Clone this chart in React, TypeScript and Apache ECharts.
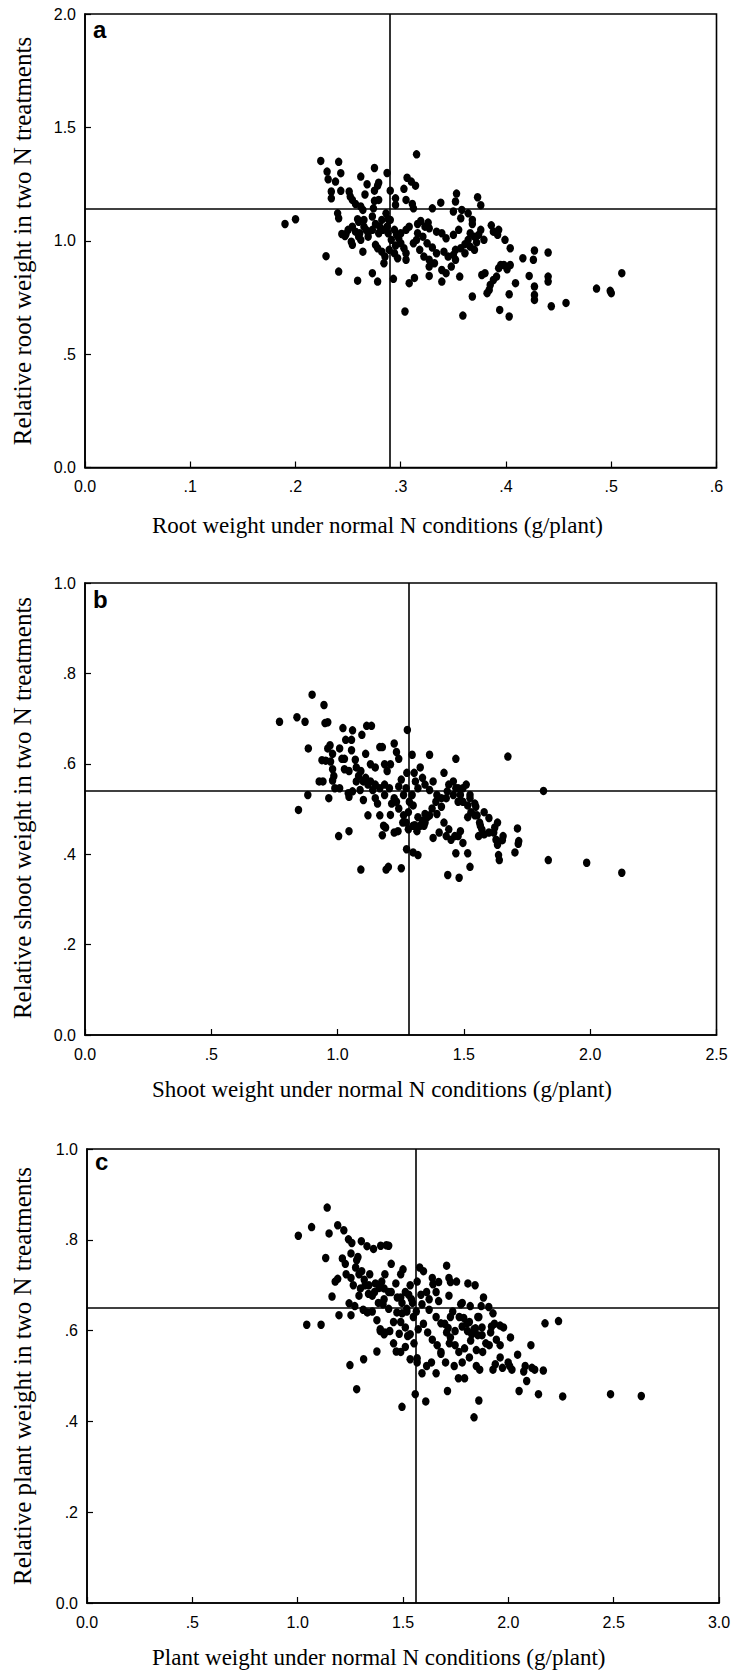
import React, { useEffect, useRef } from "react";
import * as echarts from "echarts";

// Panel a: root weight (g/plant) vs relative root weight
const rootPoints: [number, number][] = [
  [0.224, 1.352], [0.241, 1.348], [0.315, 1.381], [0.23, 1.305], [0.243, 1.298], [0.275, 1.321], [0.287, 1.299],
  [0.231, 1.271], [0.238, 1.261], [0.262, 1.283], [0.306, 1.278], [0.31, 1.261], [0.314, 1.243], [0.268, 1.249],
  [0.279, 1.256], [0.278, 1.243], [0.303, 1.229], [0.275, 1.221], [0.29, 1.221], [0.251, 1.217], [0.234, 1.217],
  [0.234, 1.187], [0.243, 1.22], [0.252, 1.195], [0.266, 1.204], [0.305, 1.18], [0.353, 1.208], [0.373, 1.192],
  [0.376, 1.157], [0.338, 1.168], [0.352, 1.173], [0.254, 1.18], [0.257, 1.162], [0.262, 1.151], [0.264, 1.136],
  [0.275, 1.176], [0.279, 1.18], [0.295, 1.187], [0.295, 1.158], [0.311, 1.162], [0.312, 1.143], [0.274, 1.143],
  [0.33, 1.143], [0.35, 1.129], [0.358, 1.136], [0.364, 1.121], [0.24, 1.121], [0.241, 1.099], [0.259, 1.095],
  [0.26, 1.084], [0.29, 1.092], [0.319, 1.087], [0.326, 1.08], [0.357, 1.099], [0.368, 1.092], [0.368, 1.074],
  [0.386, 1.068], [0.376, 1.048], [0.393, 1.048], [0.392, 1.026], [0.399, 1.004], [0.404, 0.967], [0.427, 0.957],
  [0.44, 0.948], [0.416, 0.923], [0.426, 0.916], [0.379, 1.004], [0.37, 1.018], [0.372, 0.993], [0.361, 0.985],
  [0.355, 1.048], [0.35, 1.026], [0.343, 1.011], [0.339, 1.033], [0.334, 1.04], [0.327, 1.055], [0.323, 1.062],
  [0.316, 1.074], [0.308, 1.062], [0.305, 1.048], [0.3, 1.033], [0.298, 1.011], [0.3, 0.989], [0.303, 0.967],
  [0.305, 0.945], [0.305, 0.916], [0.312, 0.989], [0.315, 1.004], [0.321, 1.018], [0.325, 0.989], [0.33, 0.97],
  [0.334, 0.945], [0.341, 0.952], [0.345, 0.93], [0.35, 0.938], [0.352, 0.96], [0.357, 0.967], [0.361, 0.945],
  [0.366, 0.974], [0.37, 0.96], [0.332, 0.901], [0.327, 0.886], [0.339, 0.871], [0.343, 0.857], [0.327, 0.845],
  [0.339, 0.82], [0.348, 0.886], [0.352, 0.916], [0.356, 0.842], [0.377, 0.849], [0.38, 0.857], [0.391, 0.842],
  [0.388, 0.827], [0.385, 0.805], [0.384, 0.783], [0.382, 0.769], [0.393, 0.879], [0.395, 0.893], [0.398, 0.893],
  [0.404, 0.893], [0.401, 0.874], [0.422, 0.845], [0.427, 0.798], [0.427, 0.761], [0.427, 0.739], [0.44, 0.842],
  [0.44, 0.82], [0.409, 0.813], [0.403, 0.764], [0.443, 0.711], [0.457, 0.726], [0.486, 0.789], [0.499, 0.779],
  [0.5, 0.769], [0.51, 0.857], [0.394, 0.695], [0.403, 0.666], [0.359, 0.67], [0.368, 0.754], [0.304, 0.688],
  [0.308, 0.813], [0.313, 0.836], [0.293, 0.832], [0.278, 0.82], [0.273, 0.857], [0.259, 0.824], [0.241, 0.864],
  [0.229, 0.932], [0.244, 1.03], [0.247, 1.021], [0.253, 0.996], [0.254, 0.982], [0.264, 0.952], [0.262, 1.004],
  [0.261, 1.033], [0.265, 1.062], [0.267, 1.048], [0.269, 1.036], [0.273, 1.048], [0.279, 1.033], [0.283, 1.048],
  [0.287, 1.062], [0.288, 1.033], [0.291, 1.004], [0.276, 0.982], [0.278, 0.967], [0.282, 0.952], [0.285, 0.93],
  [0.284, 0.901], [0.289, 0.96], [0.294, 0.945], [0.297, 0.923], [0.295, 0.979], [0.19, 1.074], [0.2, 1.095],
  [0.286, 1.121], [0.282, 1.092], [0.288, 1.095], [0.273, 1.107], [0.265, 1.092], [0.276, 1.074], [0.28, 1.062],
  [0.294, 1.048], [0.296, 1.026], [0.257, 1.04], [0.254, 1.062], [0.25, 1.048], [0.248, 1.03], [0.26, 1.018],
  [0.269, 1.018], [0.316, 1.033], [0.318, 0.96], [0.322, 0.93], [0.327, 0.916], [0.364, 1.004], [0.366, 1.033],
  [0.374, 1.026], [0.388, 1.04],
];

// Panel b: shoot weight (g/plant) vs relative shoot weight
const shootPoints: [number, number][] = [
  [0.77, 0.693], [0.839, 0.703], [0.871, 0.693], [0.899, 0.753], [0.946, 0.73], [0.95, 0.69], [0.961, 0.692],
  [0.884, 0.634], [0.845, 0.498], [0.882, 0.531], [0.965, 0.524], [1.004, 0.44], [1.045, 0.451], [0.938, 0.608],
  [0.953, 0.607], [0.972, 0.605], [0.98, 0.588], [0.985, 0.573], [0.961, 0.634], [0.97, 0.641], [0.98, 0.622],
  [0.927, 0.561], [0.942, 0.561], [0.98, 0.563], [1.008, 0.546], [1.021, 0.679], [1.059, 0.674], [1.032, 0.653],
  [1.055, 0.653], [1.096, 0.664], [1.115, 0.684], [1.134, 0.684], [1.055, 0.63], [1.07, 0.609], [1.045, 0.584],
  [1.017, 0.611], [1.008, 0.634], [1.027, 0.588], [0.989, 0.546], [1.042, 0.535], [1.045, 0.527], [1.074, 0.561],
  [1.083, 0.573], [1.089, 0.542], [1.111, 0.622], [1.13, 0.599], [1.149, 0.592], [1.167, 0.637], [1.177, 0.637],
  [1.186, 0.599], [1.196, 0.584], [1.209, 0.599], [1.224, 0.645], [1.242, 0.611], [1.233, 0.626], [1.276, 0.675],
  [1.295, 0.62], [1.303, 0.58], [1.308, 0.561], [1.318, 0.546], [1.295, 0.531], [1.284, 0.516], [1.28, 0.493],
  [1.299, 0.508], [1.318, 0.482], [1.306, 0.464], [1.314, 0.451], [1.364, 0.62], [1.378, 0.561], [1.389, 0.516],
  [1.411, 0.524], [1.434, 0.539], [1.458, 0.561], [1.468, 0.611], [1.477, 0.516], [1.496, 0.546], [1.509, 0.554],
  [1.524, 0.531], [1.547, 0.505], [1.543, 0.486], [1.515, 0.482], [1.486, 0.451], [1.464, 0.44], [1.44, 0.455],
  [1.421, 0.47], [1.402, 0.448], [1.378, 0.436], [1.355, 0.482], [1.346, 0.489], [1.336, 0.474], [1.342, 0.463],
  [1.364, 0.486], [1.43, 0.44], [1.449, 0.432], [1.477, 0.44], [1.496, 0.425], [1.515, 0.402], [1.562, 0.47],
  [1.571, 0.455], [1.558, 0.44], [1.58, 0.493], [1.599, 0.48], [1.618, 0.448], [1.627, 0.432], [1.637, 0.398],
  [1.64, 0.387], [1.633, 0.421], [1.674, 0.616], [1.712, 0.457], [1.717, 0.429], [1.702, 0.404], [1.815, 0.54],
  [1.834, 0.387], [1.986, 0.381], [2.125, 0.359], [1.633, 0.47], [1.543, 0.512], [1.524, 0.524], [1.477, 0.546],
  [1.458, 0.531], [1.43, 0.524], [1.411, 0.505], [1.393, 0.489], [1.374, 0.501], [1.346, 0.47], [1.327, 0.463],
  [1.299, 0.463], [1.28, 0.455], [1.271, 0.47], [1.261, 0.486], [1.242, 0.501], [1.233, 0.516], [1.224, 0.524],
  [1.205, 0.546], [1.186, 0.554], [1.167, 0.546], [1.149, 0.554], [1.13, 0.561], [1.111, 0.569], [1.092, 0.584],
  [1.074, 0.592], [1.059, 0.539], [1.102, 0.52], [1.12, 0.486], [1.167, 0.486], [1.182, 0.463], [1.177, 0.442],
  [1.19, 0.459], [1.209, 0.487], [1.224, 0.448], [1.239, 0.451], [1.258, 0.47], [1.273, 0.411], [1.299, 0.404],
  [1.318, 0.398], [1.092, 0.366], [1.192, 0.366], [1.201, 0.372], [1.252, 0.369], [1.436, 0.354], [1.481, 0.348],
  [1.524, 0.372], [1.468, 0.402], [1.027, 0.611], [1.102, 0.561], [1.12, 0.554], [1.139, 0.542], [1.149, 0.524],
  [1.158, 0.512], [1.186, 0.531], [1.214, 0.512], [1.242, 0.55], [1.261, 0.531], [1.271, 0.546], [1.252, 0.565],
  [1.274, 0.58], [1.327, 0.592], [1.336, 0.569], [1.346, 0.554], [1.364, 0.542], [1.393, 0.531], [1.421, 0.58],
  [1.44, 0.554], [1.468, 0.546], [1.486, 0.531], [1.496, 0.516], [1.515, 0.508], [1.528, 0.493], [1.552, 0.486],
  [1.565, 0.463], [1.58, 0.444], [1.599, 0.448], [1.622, 0.459], [1.652, 0.431], [1.655, 0.44], [1.715, 0.423],
];

// Panel c: plant weight (g/plant) vs relative plant weight
const plantPoints: [number, number][] = [
  [1.003, 0.809], [1.066, 0.828], [1.14, 0.871], [1.149, 0.814], [1.19, 0.832], [1.219, 0.821], [1.133, 0.76],
  [1.043, 0.613], [1.111, 0.613], [1.163, 0.675], [1.178, 0.708], [1.196, 0.634], [1.19, 0.714], [1.212, 0.759],
  [1.226, 0.747], [1.23, 0.724], [1.241, 0.801], [1.253, 0.77], [1.257, 0.793], [1.28, 0.755], [1.286, 0.762],
  [1.302, 0.797], [1.329, 0.786], [1.36, 0.78], [1.394, 0.787], [1.421, 0.788], [1.432, 0.787], [1.253, 0.716],
  [1.264, 0.7], [1.275, 0.739], [1.291, 0.724], [1.304, 0.731], [1.32, 0.7], [1.338, 0.7], [1.354, 0.677],
  [1.365, 0.685], [1.383, 0.661], [1.399, 0.708], [1.414, 0.724], [1.432, 0.685], [1.41, 0.669], [1.444, 0.747],
  [1.466, 0.704], [1.489, 0.724], [1.5, 0.735], [1.511, 0.685], [1.534, 0.7], [1.545, 0.661], [1.567, 0.708],
  [1.579, 0.739], [1.597, 0.731], [1.612, 0.685], [1.624, 0.669], [1.639, 0.716], [1.657, 0.685], [1.707, 0.743],
  [1.718, 0.716], [1.736, 0.642], [1.754, 0.708], [1.781, 0.661], [1.803, 0.616], [1.819, 0.654], [1.842, 0.7],
  [1.86, 0.63], [1.882, 0.673], [1.871, 0.654], [1.927, 0.638], [1.934, 0.615], [1.961, 0.611], [1.977, 0.607],
  [2.01, 0.585], [2.051, 0.467], [2.107, 0.568], [2.125, 0.514], [2.174, 0.616], [2.238, 0.621], [2.166, 0.512],
  [2.143, 0.46], [2.087, 0.489], [2.258, 0.455], [2.485, 0.46], [2.631, 0.456], [1.837, 0.409], [1.86, 0.446],
  [1.495, 0.432], [1.558, 0.46], [1.608, 0.444], [1.711, 0.467], [1.792, 0.495], [1.938, 0.526], [1.927, 0.514],
  [1.909, 0.568], [1.878, 0.553], [1.848, 0.557], [1.821, 0.578], [1.792, 0.561], [1.765, 0.553], [1.747, 0.568],
  [1.725, 0.585], [1.702, 0.53], [1.68, 0.549], [1.662, 0.568], [1.639, 0.58], [1.617, 0.596], [1.597, 0.615],
  [1.572, 0.603], [1.549, 0.63], [1.522, 0.588], [1.511, 0.607], [1.489, 0.619], [1.471, 0.64], [1.455, 0.619],
  [1.437, 0.599], [1.414, 0.596], [1.392, 0.599], [1.376, 0.623], [1.354, 0.642], [1.331, 0.64], [1.311, 0.646],
  [1.291, 0.677], [1.271, 0.654], [1.253, 0.634], [1.244, 0.66], [1.313, 0.537], [1.376, 0.554], [1.248, 0.524],
  [1.28, 0.471], [1.455, 0.572], [1.468, 0.554], [1.511, 0.564], [1.534, 0.537], [1.567, 0.53], [1.59, 0.506],
  [1.612, 0.522], [1.635, 0.53], [1.657, 0.506], [1.68, 0.553], [1.72, 0.572], [1.743, 0.522], [1.763, 0.495],
  [1.781, 0.53], [1.815, 0.541], [1.848, 0.522], [1.864, 0.514], [1.893, 0.572], [1.916, 0.596], [1.943, 0.58],
  [1.961, 0.568], [1.972, 0.518], [1.999, 0.53], [2.017, 0.514], [2.044, 0.547], [2.073, 0.51], [2.08, 0.522],
  [2.112, 0.518], [2.006, 0.522], [1.961, 0.541], [1.92, 0.609], [1.875, 0.607], [1.837, 0.603], [1.815, 0.619],
  [1.767, 0.63], [1.747, 0.599], [1.714, 0.606], [1.698, 0.615], [1.68, 0.616], [1.657, 0.63], [1.624, 0.646],
  [1.59, 0.658], [1.563, 0.642], [1.54, 0.669], [1.518, 0.642], [1.495, 0.661], [1.473, 0.673], [1.444, 0.685],
  [1.41, 0.693], [1.387, 0.694], [1.369, 0.704], [1.342, 0.724], [1.316, 0.712], [1.298, 0.693], [1.336, 0.681],
  [1.405, 0.658], [1.432, 0.648], [1.489, 0.673], [1.527, 0.679], [1.585, 0.679], [1.669, 0.665], [1.725, 0.63],
  [1.806, 0.599], [1.826, 0.592], [1.855, 0.59], [1.875, 0.59], [1.808, 0.704], [1.725, 0.707], [1.669, 0.707],
  [1.642, 0.702], [1.718, 0.677], [1.774, 0.658], [1.788, 0.628], [1.567, 0.539], [1.518, 0.648], [1.495, 0.638],
  [1.482, 0.593], [1.489, 0.553], [1.41, 0.592], [1.392, 0.603], [1.534, 0.592], [1.552, 0.572], [1.707, 0.596],
  [1.781, 0.609], [1.907, 0.652], [1.844, 0.605], [1.855, 0.63],
];

// Mean reference lines
const rootMean = { x: 0.286, y: 1.135 };
const shootMean = { x: 1.276, y: 0.541 };
const plantMean = { x: 1.561, y: 0.652 };

// Tick labels
const xTicksA = ["0.0", ".1", ".2", ".3", ".4", ".5", ".6"];
const yTicksA = ["0.0", ".5", "1.0", "1.5", "2.0"];
const xTicksB = ["0.0", ".5", "1.0", "1.5", "2.0", "2.5"];
const yTicksBC = ["0.0", ".2", ".4", ".6", ".8", "1.0"];
const xTicksC = ["0.0", ".5", "1.0", "1.5", "2.0", "2.5", "3.0"];

const panelLetters = ["a", "b", "c"];
const xTitles = [
  "Root weight under normal N conditions (g/plant)",
  "Shoot weight under normal N conditions (g/plant)",
  "Plant weight under normal N conditions (g/plant)",
];
const yTitles = [
  "Relative root weight in two N treatments",
  "Relative shoot weight in two N treatments",
  "Relative plant weight in two N treatments",
];

export default function App() {
  const ref = useRef<HTMLDivElement>(null);

  useEffect(() => {
    document.body.style.margin = "0";
    if (!ref.current) return;
    const chart = echarts.init(ref.current, undefined, { renderer: "svg" });

    const panels = [
      { grid: { left: 85, top: 14, width: 631.5, height: 453.5 }, xInt: 0.1, xLabels: xTicksA, yInt: 0.5, yLabels: yTicksA, pts: rootPoints, mean: rootMean },
      { grid: { left: 85, top: 583, width: 631.5, height: 452 }, xInt: 0.5, xLabels: xTicksB, yInt: 0.2, yLabels: yTicksBC, pts: shootPoints, mean: shootMean },
      { grid: { left: 87, top: 1149, width: 632, height: 454 }, xInt: 0.5, xLabels: xTicksC, yInt: 0.2, yLabels: yTicksBC, pts: plantPoints, mean: plantMean },
    ];

    const axisCommon = {
      axisLine: { show: true, lineStyle: { color: "#000", width: 1.6 } },
      axisTick: { show: true, inside: true, length: 6, lineStyle: { color: "#000", width: 1.2 } },
      splitLine: { show: false },
    };

    const grids = panels.map((p) => ({
      ...p.grid,
      show: true,
      borderColor: "#000",
      borderWidth: 1.6,
      backgroundColor: "transparent",
      containLabel: false,
    }));

    const xAxes = panels.map((p, i) => ({
      type: "value",
      gridIndex: i,
      min: 0,
      max: p.xInt * (p.xLabels.length - 1),
      interval: p.xInt,
      ...axisCommon,
      axisLabel: {
        margin: 11,
        color: "#000",
        fontFamily: "Liberation Sans, Arial, sans-serif",
        fontSize: 16,
        showMinLabel: true,
        showMaxLabel: true,
        formatter: (v: number) => p.xLabels[Math.round(v / p.xInt)] ?? "",
      },
    }));

    const yAxes = panels.map((p, i) => ({
      type: "value",
      gridIndex: i,
      min: 0,
      max: p.yInt * (p.yLabels.length - 1),
      interval: p.yInt,
      ...axisCommon,
      axisLabel: {
        margin: 9,
        color: "#000",
        fontFamily: "Liberation Sans, Arial, sans-serif",
        fontSize: 16,
        showMinLabel: true,
        showMaxLabel: true,
        formatter: (v: number) => p.yLabels[Math.round(v / p.yInt)] ?? "",
      },
    }));

    const series = panels.map((p, i) => ({
      type: "scatter",
      xAxisIndex: i,
      yAxisIndex: i,
      data: p.pts,
      symbol: "circle",
      symbolSize: [7.5, 8.5],
      itemStyle: { color: "#000", opacity: 1 },
      silent: true,
      markLine: {
        silent: true,
        symbol: "none",
        label: { show: false },
        lineStyle: { color: "#000", width: 1.6, type: "solid", opacity: 1 },
        data: [{ xAxis: p.mean.x }, { yAxis: p.mean.y }],
      },
    }));

    const letterY = [29.7, 599.7, 1161.7];
    const xTitleY = [525.5, 1089, 1657.5];
    const yTitleY = [241, 808, 1376];

    const graphic: any[] = [];
    panels.forEach((p, i) => {
      graphic.push({
        type: "text",
        x: p.grid.left + 8,
        y: letterY[i],
        style: {
          text: panelLetters[i],
          fontFamily: "Liberation Sans, Arial, sans-serif",
          fontWeight: "bold",
          fontSize: 24,
          fill: "#000",
          textAlign: "left",
          textVerticalAlign: "middle",
        },
      });
      graphic.push({
        type: "text",
        x: 152,
        y: xTitleY[i],
        style: {
          text: xTitles[i],
          fontFamily: "Liberation Serif, Times New Roman, serif",
          fontSize: 23,
          fill: "#000",
          textAlign: "left",
          textVerticalAlign: "middle",
        },
      });
      graphic.push({
        type: "text",
        x: 22,
        y: yTitleY[i],
        rotation: Math.PI / 2,
        style: {
          text: yTitles[i],
          fontFamily: "Liberation Serif, Times New Roman, serif",
          fontSize: 25,
          fill: "#000",
          textAlign: "center",
          textVerticalAlign: "middle",
        },
      });
    });

    chart.setOption({
      animation: false,
      backgroundColor: "#fff",
      grid: grids,
      xAxis: xAxes,
      yAxis: yAxes,
      series,
      graphic,
    });

    return () => chart.dispose();
  }, []);

  return <div ref={ref} style={{ width: 744, height: 1672 }} />;
}
